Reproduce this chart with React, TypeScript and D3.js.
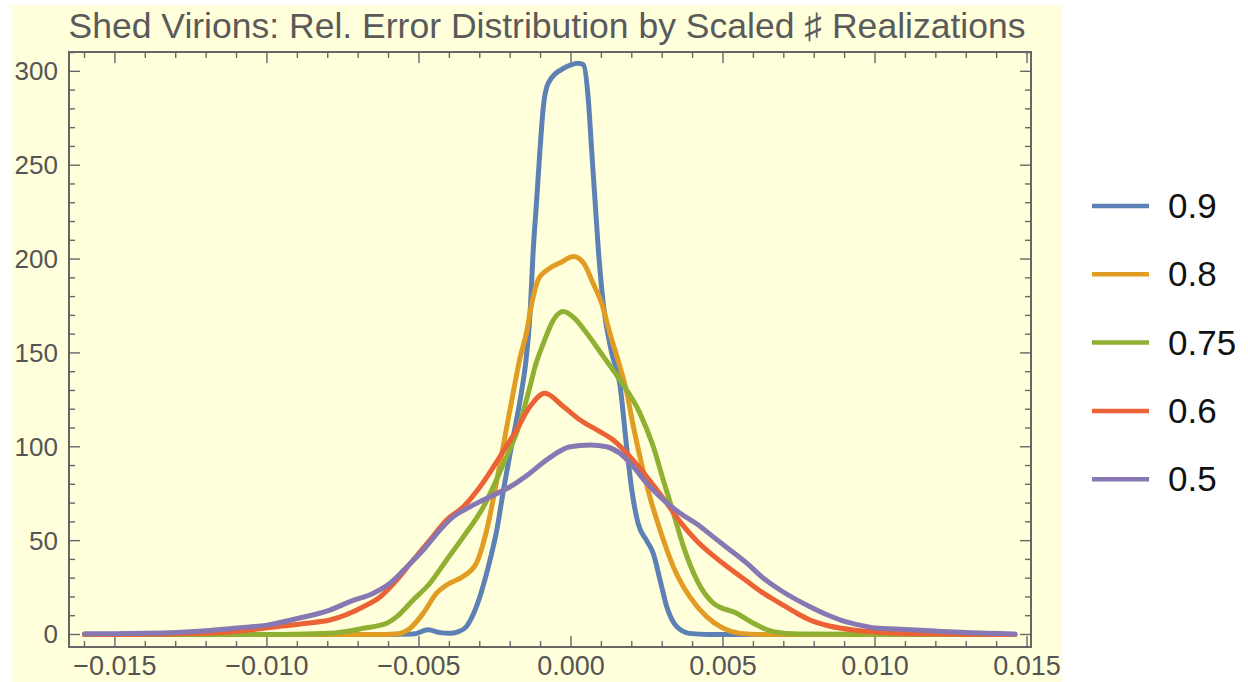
import React from "react";
import * as d3 from "d3";

// ---------- data ----------
const title = "Shed Virions: Rel. Error Distribution by Scaled \u266F Realizations";
const seriesNames = ["0.9", "0.8", "0.75", "0.6", "0.5"];
const seriesColors = ["#5E81B5", "#E19C24", "#8FB032", "#EB6235", "#8778B3"];

const s09: [number, number][] = [
  [-0.016, 0], [-0.006, 0], [-0.0052, 0.2], [-0.0047, 2.5], [-0.0043, 1.0], [-0.004, 0.6],
  [-0.0037, 1.5], [-0.00345, 4], [-0.00311, 14.8], [-0.00272, 36], [-0.00244, 55.7],
  [-0.00222, 77], [-0.00195, 101], [-0.00162, 130], [-0.00148, 146], [-0.00135, 170],
  [-0.00124, 205], [-0.00113, 231], [-0.00102, 258], [-0.00091, 281], [-0.00075, 293.6],
  [-0.00025, 301.6], [0.0, 303.5], [0.00024, 304.3], [0.00041, 303.4], [0.00057, 285],
  [0.00068, 258], [0.00079, 231.5], [0.0009, 205], [0.00107, 175], [0.00134, 150],
  [0.00161, 133], [0.00183, 100], [0.002, 77], [0.00221, 59], [0.00249, 50], [0.00271, 43],
  [0.00293, 29], [0.00315, 14.8], [0.00348, 4.2], [0.0039, 0.6], [0.0045, 0], [0.0146, 0],
];

const s08: [number, number][] = [
  [-0.016, 0], [-0.0065, 0], [-0.00573, 0.3], [-0.00529, 3.3], [-0.00486, 11.3],
  [-0.00442, 22], [-0.00409, 26.4], [-0.00354, 31], [-0.00311, 38], [-0.00277, 55.7],
  [-0.00244, 82], [-0.00213, 109], [-0.00184, 134], [-0.00168, 147], [-0.00146, 161],
  [-0.00129, 176.4], [-0.00108, 189], [-0.0008, 194], [-0.00036, 198], [0.00008, 201.3],
  [0.00041, 198], [0.00073, 187], [0.00101, 176.4], [0.00128, 160.5], [0.00161, 142.7],
  [0.00182, 130], [0.00205, 111], [0.00232, 91], [0.0026, 73], [0.00293, 55.7],
  [0.00337, 36], [0.00391, 20], [0.00446, 9.5], [0.00501, 3.3], [0.00556, 0.6],
  [0.0062, 0], [0.0146, 0],
];

const s075: [number, number][] = [
  [-0.016, 0], [-0.0095, 0], [-0.00793, 0.6], [-0.00683, 3.3], [-0.00606, 6],
  [-0.00573, 9.5], [-0.00519, 18.4], [-0.00464, 27.3], [-0.00409, 39.7], [-0.00354, 52],
  [-0.00288, 68], [-0.00222, 91], [-0.00168, 112.5], [-0.00135, 132], [-0.00118, 142.7],
  [-0.00091, 155], [-0.00058, 167.5], [-0.00025, 172], [0.00008, 169], [0.00052, 160.5],
  [0.00107, 148], [0.00161, 135.6], [0.00227, 117.8], [0.00271, 100], [0.00304, 82],
  [0.00337, 64.6], [0.0037, 46.8], [0.00414, 29], [0.00469, 16.6], [0.00545, 11.3],
  [0.006, 6], [0.00666, 1.5], [0.0075, 0.2], [0.0146, 0],
];

const s06: [number, number][] = [
  [-0.016, 0], [-0.013, 0.3], [-0.0115, 1], [-0.0105, 2.5], [-0.0095, 4.5], [-0.0087, 6],
  [-0.00793, 7.7], [-0.00683, 14.8], [-0.00628, 20], [-0.00573, 29], [-0.00519, 39.7],
  [-0.00464, 50.3], [-0.00409, 61], [-0.00354, 68], [-0.00299, 78.7], [-0.00234, 94.7],
  [-0.00179, 109], [-0.00135, 121.4], [-0.00086, 128.5], [-0.00025, 121.4], [0.0003, 114.3],
  [0.00085, 109], [0.00139, 103.6], [0.00194, 94.7], [0.00249, 84], [0.00304, 72.5],
  [0.00359, 60], [0.00413, 50], [0.00468, 42], [0.00523, 35], [0.00578, 28.5],
  [0.00633, 22], [0.00688, 16.6], [0.00743, 11.3], [0.00786, 7.7], [0.0085, 4.5],
  [0.0095, 2], [0.0105, 0.8], [0.012, 0.3], [0.0146, 0],
];

const s05: [number, number][] = [
  [-0.016, 0.4], [-0.014, 0.6], [-0.013, 1], [-0.012, 2], [-0.011, 3.5], [-0.01, 5],
  [-0.009, 8.5], [-0.00793, 13], [-0.00727, 17.5], [-0.0065, 22], [-0.00595, 27.3],
  [-0.0054, 36], [-0.00486, 45], [-0.00431, 55.7], [-0.00387, 62.8], [-0.00332, 68],
  [-0.00266, 73.4], [-0.002, 78.7], [-0.00135, 85.9], [-0.0008, 93], [-0.00003, 100],
  [0.00063, 101], [0.00117, 100], [0.00161, 96.5], [0.00205, 89.4], [0.00249, 80.6],
  [0.00304, 71.7], [0.00359, 64.6], [0.00413, 59], [0.00468, 52], [0.00523, 45],
  [0.00578, 38], [0.00633, 30], [0.00688, 23.7], [0.00786, 14.8], [0.0085, 10],
  [0.009, 7], [0.0095, 5], [0.01, 3.5], [0.011, 2.7], [0.012, 1.8], [0.013, 1],
  [0.0146, 0.3],
];

const allSeries = [s09, s08, s075, s06, s05];

const xMajorTicks = [-0.015, -0.01, -0.005, 0, 0.005, 0.01, 0.015];
const xTickLabels = ["\u22120.015", "\u22120.010", "\u22120.005", "0.000", "0.005", "0.010", "0.015"];
const yMajorTicks = [0, 50, 100, 150, 200, 250, 300];
const yTickLabels = ["0", "50", "100", "150", "200", "250", "300"];

const X_DOMAIN = [-0.01651, 0.01513];
const Y_DOMAIN = [-6.66, 310.3];

// ---------- layout ----------
const W = 1248;
const H = 682;
const L = 69, R = 1031, T = 52, B = 647;
const FRAME = "#666666";
const FONT = "'Liberation Sans', Arial, Helvetica, sans-serif";

export default function App() {
  const x = d3.scaleLinear().domain(X_DOMAIN).range([L, R]);
  const y = d3.scaleLinear().domain(Y_DOMAIN).range([B, T]);
  const line = d3
    .line<[number, number]>()
    .x((d) => x(d[0]))
    .y((d) => y(d[1]))
    .curve(d3.curveMonotoneX);

  const xMinor = d3.range(-16, 16).map((i) => i * 0.001).filter((v) => x(v) > L + 1 && x(v) < R - 1);
  const yMinor = d3.range(0, 311, 10).filter((v) => v % 50 !== 0);

  const majorLen = 11;
  const minorLen = 6;

  return (
    <svg
      width={W}
      height={H}
      style={{ position: "absolute", left: 0, top: 0, display: "block", background: "#ffffff" }}
    >
      <rect x={12} y={5} width={1050} height={H - 5} fill="#FFFFDC" />

      <text
        x={(L + R) / 2 - 3}
        y={38}
        textAnchor="middle"
        fontFamily={FONT}
        fontSize={35}
        fill="#5a5a5a"
        textLength={957}
        lengthAdjust="spacingAndGlyphs"
      >
        {title}
      </text>

      {/* ticks */}
      <g stroke={FRAME} strokeWidth={1.4}>
        {xMajorTicks.map((v) => (
          <g key={"xm" + v}>
            <line x1={x(v)} x2={x(v)} y1={B} y2={B - majorLen} />
            <line x1={x(v)} x2={x(v)} y1={T} y2={T + majorLen} />
          </g>
        ))}
        {xMinor
          .filter((v) => !xMajorTicks.some((m) => Math.abs(m - v) < 1e-9))
          .map((v) => (
            <g key={"xn" + v}>
              <line x1={x(v)} x2={x(v)} y1={B} y2={B - minorLen} />
              <line x1={x(v)} x2={x(v)} y1={T} y2={T + minorLen} />
            </g>
          ))}
        {yMajorTicks.map((v) => (
          <g key={"ym" + v}>
            <line x1={L} x2={L + majorLen} y1={y(v)} y2={y(v)} />
            <line x1={R} x2={R - majorLen} y1={y(v)} y2={y(v)} />
          </g>
        ))}
        {yMinor.map((v) => (
          <g key={"yn" + v}>
            <line x1={L} x2={L + minorLen} y1={y(v)} y2={y(v)} />
            <line x1={R} x2={R - minorLen} y1={y(v)} y2={y(v)} />
          </g>
        ))}
      </g>

      {/* curves */}
      <g fill="none" strokeWidth={5} strokeLinejoin="round" strokeLinecap="round">
        {allSeries.map((s, i) => (
          <path key={seriesNames[i]} d={line(s) || ""} stroke={seriesColors[i]} />
        ))}
      </g>

      {/* frame */}
      <rect x={L} y={T} width={R - L} height={B - T} fill="none" stroke={FRAME} strokeWidth={2} />

      {/* tick labels */}
      <g fontFamily={FONT} fill="#555555">
        {xMajorTicks.map((v, i) => (
          <text key={"xl" + v} x={x(v)} y={675} fontSize={27} textAnchor="middle">
            {xTickLabels[i]}
          </text>
        ))}
        {yMajorTicks.map((v, i) => (
          <text key={"yl" + v} x={58} y={y(v) + 9} fontSize={26} textAnchor="end">
            {yTickLabels[i]}
          </text>
        ))}
      </g>

      {/* legend */}
      <g fontFamily={FONT}>
        {seriesNames.map((n, i) => {
          const ly = 206 + i * 68.3;
          return (
            <g key={"lg" + n}>
              <line x1={1092} x2={1149} y1={ly} y2={ly} stroke={seriesColors[i]} strokeWidth={4.5} />
              <text x={1168} y={ly + 12} fontSize={35} fill="#111111">
                {n}
              </text>
            </g>
          );
        })}
      </g>
    </svg>
  );
}
